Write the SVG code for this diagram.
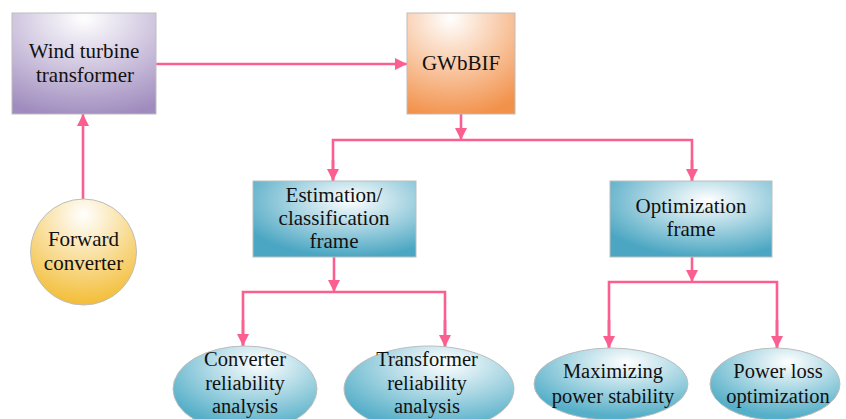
<svg xmlns="http://www.w3.org/2000/svg" width="846" height="419" viewBox="0 0 846 419">
<defs>
<style>
.t{font-family:"Liberation Serif","Times New Roman",serif;font-size:21px;fill:#111;text-anchor:middle}
.e{font-size:20.5px}
.box{stroke:#bdbdbd;stroke-width:1}
.c{fill:none;stroke:#FA5F90;stroke-width:2.6}
</style>
<marker id="ah" viewBox="0 0 12 12" refX="12" refY="6" markerWidth="12" markerHeight="12" orient="auto" markerUnits="userSpaceOnUse">
<path d="M0,0 L12,6 L0,12 z" fill="#FA5F90"/>
</marker>
<radialGradient id="gp" cx="50%" cy="5%" r="100%">
<stop offset="0" stop-color="#ffffff"/>
<stop offset="1" stop-color="#9F8BBE"/>
</radialGradient>
<radialGradient id="go" cx="40%" cy="5%" r="100%">
<stop offset="0" stop-color="#ffffff"/>
<stop offset="1" stop-color="#F2914A"/>
</radialGradient>
<radialGradient id="gb" cx="60%" cy="25%" r="75%">
<stop offset="0" stop-color="#ffffff"/>
<stop offset="1" stop-color="#4AA6C2"/>
</radialGradient>
<radialGradient id="gy" cx="50%" cy="15%" r="90%">
<stop offset="0" stop-color="#ffffff"/>
<stop offset="1" stop-color="#F2B92A"/>
</radialGradient>
<radialGradient id="ge" cx="60%" cy="20%" r="75%">
<stop offset="0" stop-color="#ffffff"/>
<stop offset="1" stop-color="#55AFC8"/>
</radialGradient>
</defs>
<g id="connectors">
<path class="c" d="M156,64 H407" marker-end="url(#ah)"/>
<path class="c" d="M83,202 V114" marker-end="url(#ah)"/>
<path class="c" d="M461,114 V140" marker-end="url(#ah)"/>
<path class="c" d="M333,181 V140 H692 V181" />
<path class="c" d="M333,160 V181" marker-end="url(#ah)"/>
<path class="c" d="M692,160 V181" marker-end="url(#ah)"/>
<path class="c" d="M334,257 V292" marker-end="url(#ah)"/>
<path class="c" d="M243,346 V292 H445 V346"/>
<path class="c" d="M243,320 V346" marker-end="url(#ah)"/>
<path class="c" d="M445,320 V347" marker-end="url(#ah)"/>
<path class="c" d="M692,257 V282" marker-end="url(#ah)"/>
<path class="c" d="M609,348 V282 H777 V348"/>
<path class="c" d="M609,320 V348" marker-end="url(#ah)"/>
<path class="c" d="M777,320 V348" marker-end="url(#ah)"/>
</g>
<g id="wind-turbine-transformer">
<rect class="box" x="12" y="13" width="144" height="101" fill="url(#gp)"/>
<text class="t" x="84" y="58">Wind turbine</text>
<text class="t" x="85" y="82">transformer</text>
</g>
<g id="gwbbif">
<rect class="box" x="407" y="13" width="108" height="101" fill="url(#go)"/>
<text class="t" x="461" y="70">GWbBIF</text>
</g>
<g id="forward-converter">
<circle class="box" cx="83.5" cy="252" r="53" fill="url(#gy)"/>
<text class="t" x="83.5" y="246">Forward</text>
<text class="t" x="83.5" y="270">converter</text>
</g>
<g id="estimation-frame">
<rect class="box" x="253" y="181" width="163" height="76" fill="url(#gb)"/>
<text class="t" x="334" y="202">Estimation/</text>
<text class="t" x="334" y="225">classification</text>
<text class="t" x="334" y="248">frame</text>
</g>
<g id="optimization-frame">
<rect class="box" x="610" y="181" width="162" height="76" fill="url(#gb)"/>
<text class="t" x="691" y="213">Optimization</text>
<text class="t" x="691" y="236">frame</text>
</g>
<g id="converter-reliability">
<ellipse class="box" cx="245" cy="389" rx="72" ry="43" fill="url(#ge)"/>
<text class="t e" x="245" y="366">Converter</text>
<text class="t e" x="245" y="390">reliability</text>
<text class="t e" x="245" y="413">analysis</text>
</g>
<g id="transformer-reliability">
<ellipse class="box" cx="429" cy="389" rx="85" ry="43" fill="url(#ge)"/>
<text class="t e" x="427" y="366">Transformer</text>
<text class="t e" x="427" y="390">reliability</text>
<text class="t e" x="427" y="413">analysis</text>
</g>
<g id="maximizing-power-stability">
<ellipse class="box" cx="611" cy="384" rx="77" ry="36" fill="url(#ge)"/>
<text class="t e" x="613" y="378">Maximizing</text>
<text class="t e" x="613" y="403">power stability</text>
</g>
<g id="power-loss-optimization">
<ellipse class="box" cx="775" cy="384" rx="65" ry="36" fill="url(#ge)"/>
<text class="t e" x="778" y="378">Power loss</text>
<text class="t e" x="778" y="403">optimization</text>
</g>
</svg>
